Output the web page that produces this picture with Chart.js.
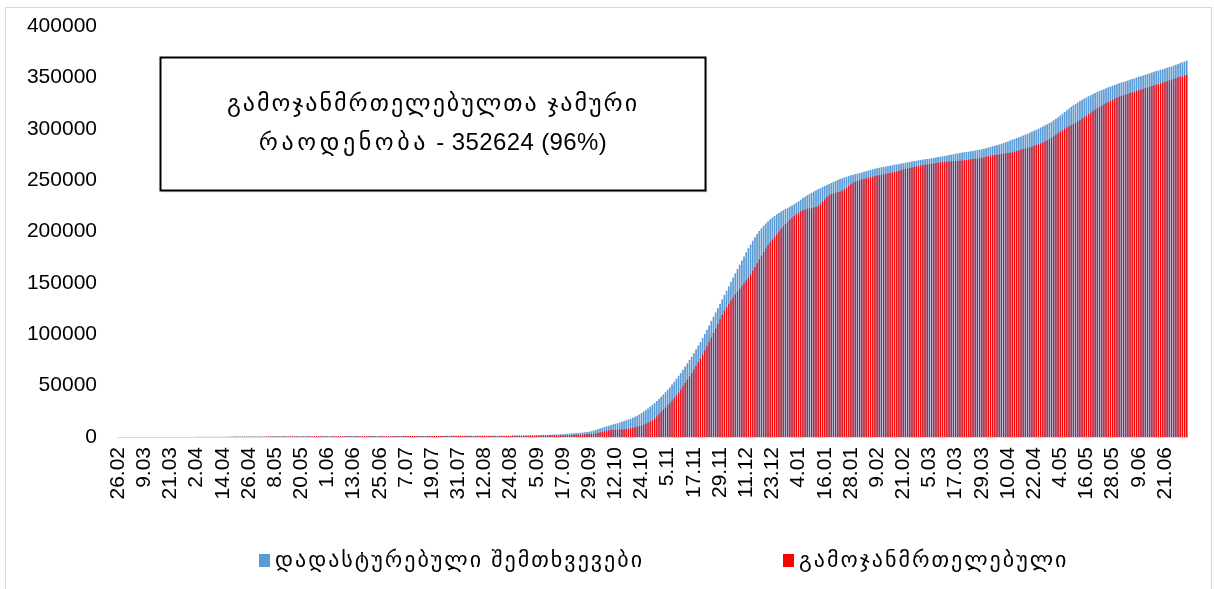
<!DOCTYPE html>
<html>
<head>
<meta charset="utf-8">
<script src="https://cdn.jsdelivr.net/npm/chart.js@4/dist/chart.umd.min.js"></script>
<style>
  html, body { margin: 0; padding: 0; background: #fff; }
  #wrap { position: relative; width: 1214px; height: 589px; overflow: hidden; }
  #wrap canvas { position: absolute; left: 0; top: 0; }
  #frame { position: absolute; left: 5px; top: 7px; width: 1205px; height: 640px;
           border: 1px solid #d9d9d9; pointer-events: none; }
</style>
</head>
<body>
<div id="wrap">
  <canvas id="chart" width="1214" height="589"></canvas>
  <div id="frame"></div>
</div>
<script>
// Daily series, 26.02.2020 – 1.07.2021 (one reporting day, 1.10, is absent).
const firstDay = '2020-02-26';
const missingDays = ['1.10'];
const tickEvery = 12;            // a date label on every 12th day

const seriesNames = ['დადასტურებული შემთხვევები', 'გამოჯანმრთელებული'];
const summaryLines = ['გამოჯანმრთელებულთა ჯამური', 'რაოდენობა'];

const yTicks = [0, 50000, 100000, 150000, 200000, 250000, 300000, 350000, 400000];

// cumulative confirmed cases
const confirmed = [
  1, 1, 2, 3,
  3, 3, 3, 9, 12, 13, 13, 15, 15, 23, 24, 25, 30, 33, 33, 34, 38, 40, 43, 44, 49, 54, 55, 61, 70, 75, 79, 83, 90, 103, 110,
  115, 134, 155, 174, 188, 195, 211, 218, 234, 242, 257, 272, 300, 306, 330, 348, 370, 388, 394, 402, 408, 416, 425, 444, 456, 486, 497, 511, 517, 539,
  566, 582, 589, 593, 604, 610, 615, 626, 635, 642, 647, 661, 672, 677, 683, 695, 701, 713, 721, 723, 728, 730, 731, 732, 735, 738, 746, 761, 784, 795, 800,
  805, 806, 811, 817, 818, 822, 830, 836, 846, 855, 861, 869, 874, 879, 883, 885, 888, 891, 893, 898, 900, 901, 902, 906, 911, 915, 918, 921, 924, 928,
  931, 936, 939, 942, 949, 953, 961, 968, 975, 978, 980, 985, 991, 995, 997, 1000, 1004, 1006, 1011, 1032, 1043, 1066, 1073, 1090, 1111, 1131, 1141, 1159, 1167, 1173, 1182,
  1195, 1197, 1208, 1212, 1218, 1222, 1223, 1232, 1238, 1245, 1248, 1253, 1259, 1261, 1264, 1266, 1275, 1283, 1288, 1294, 1304, 1313, 1321, 1334, 1350, 1362, 1377, 1402, 1430, 1440, 1500,
  1562, 1600, 1640, 1680, 1734, 1790, 1860, 1920, 1960, 1979, 2080, 2210, 2350, 2450, 2540, 2650, 2758, 2900, 3100, 3300, 3500, 3700, 3850, 4000, 4200, 4400, 4700, 4950, 5200, 5500,
  6300, 6900, 7600, 8300, 9000, 9700, 10400, 11000, 11700, 12300, 12900, 13500, 14100, 14800, 15500, 16200, 17000, 17800, 18700, 19700, 20800, 22000, 23300, 24700, 26200, 27800, 29500, 31300, 33100, 35000,
  37000, 39100, 41300, 43600, 46000, 48500, 51100, 53800, 56600, 59500, 62400, 65400, 68500, 71700, 74900, 78200, 81600, 85100, 88700, 92400, 96300, 100300, 104400, 108600, 112800, 117000, 121200, 125400, 129600, 133800,
  138100, 142400, 146700, 151000, 155200, 159400, 163500, 167600, 171700, 175700, 179700, 183600, 187400, 191000, 194400, 197500, 200400, 203100, 205600, 207900, 210000, 211900, 213600, 215200, 216700, 218100, 219400, 220600, 221800, 223000, 224100,
  225300, 226600, 228000, 229500, 231000, 232500, 233900, 235300, 236600, 237800, 239000, 240100, 241200, 242200, 243200, 244200, 245200, 246200, 247200, 248200, 249200, 250100, 251000, 251800, 252600, 253300, 254000, 254700, 255300, 255900, 256400,
  256900, 257500, 258100, 258700, 259300, 259900, 260500, 261000, 261500, 262000, 262500, 262900, 263300, 263700, 264100, 264500, 264900, 265300, 265700, 266100, 266500, 266900, 267300, 267700, 268100, 268500, 268900, 269300,
  269700, 270000, 270300, 270600, 270900, 271200, 271600, 272000, 272400, 272800, 273200, 273600, 274000, 274400, 274800, 275200, 275600, 276000, 276400, 276800, 277100, 277400, 277700, 278000, 278400, 278800, 279200, 279600, 280100, 280600, 281100,
  281700, 282300, 282900, 283500, 284100, 284700, 285400, 286100, 286900, 287700, 288500, 289300, 290100, 290900, 291700, 292500, 293400, 294300, 295200, 296100, 297000, 298000, 299000, 300000, 301100, 302200, 303300, 304400, 305600, 306800,
  308200, 309700, 311300, 313000, 314700, 316400, 318100, 319700, 321300, 322800, 324200, 325600, 327000, 328200, 329400, 330500, 331600, 332700, 333700, 334700, 335700, 336700, 337600, 338500, 339400, 340300, 341100, 341900, 342700, 343500, 344200,
  344900, 345600, 346300, 347000, 347700, 348400, 349100, 349800, 350500, 351200, 351900, 352600, 353300, 354000, 354700, 355400, 356100, 356700, 357300, 357900, 358600, 359300, 360000, 360700, 361500, 362300, 363100, 363900, 364700, 365500,
  366300
];

// cumulative recovered
const recovered = [
  0, 0, 0, 0,
  0, 0, 0, 0, 0, 0, 0, 0, 0, 0, 0, 0, 1, 1, 1, 1, 1, 1, 1, 3, 3, 3, 6, 6, 13, 14, 15, 17, 18, 20, 21,
  22, 26, 27, 31, 33, 36, 40, 53, 55, 61, 67, 72, 79, 90, 96, 104, 111, 121, 127, 136, 147, 160, 168, 183, 199, 211, 223, 237, 256, 271,
  289, 304, 329, 359, 380, 392, 403, 427, 442, 456, 474, 491, 515, 528, 538, 545, 558, 580, 596, 606, 612, 628, 636, 641, 650, 658, 668, 680, 691, 702, 710,
  717, 722, 730, 734, 738, 741, 746, 750, 754, 757, 761, 764, 766, 769, 770, 773, 778, 784, 788, 790, 798, 803, 807, 810, 812, 815, 817, 820, 822, 825,
  830, 836, 841, 848, 853, 860, 862, 866, 870, 872, 875, 880, 884, 888, 891, 895, 900, 903, 905, 906, 910, 916, 920, 926, 931, 937, 943, 950, 958, 964, 970,
  975, 980, 985, 990, 995, 1000, 1004, 1008, 1011, 1014, 1017, 1020, 1024, 1028, 1032, 1035, 1040, 1046, 1052, 1059, 1067, 1074, 1083, 1091, 1100, 1110, 1121, 1134, 1150, 1165, 1180,
  1200, 1220, 1240, 1260, 1280, 1300, 1320, 1340, 1360, 1380, 1400, 1420, 1440, 1460, 1480, 1500, 1550, 1610, 1680, 1760, 1850, 1950, 2050, 2150, 2250, 2350, 2450, 2600, 2800, 3000,
  3100, 3400, 3800, 4300, 4900, 5600, 6200, 6600, 6800, 6900, 7000, 7100, 7200, 7300, 7500, 7700, 8000, 8400, 8900, 9400, 9900, 10500, 11200, 12000, 12900, 13900, 14900, 16300, 18000, 20000,
  22100, 24300, 26500, 28700, 30900, 33100, 35400, 37800, 40400, 43200, 46200, 49300, 52500, 55700, 58900, 62200, 65600, 69100, 72700, 76400, 80300, 84300, 88400, 92600, 96900, 101200, 105600, 110000, 114500, 119000,
  122800, 126200, 129600, 132800, 135800, 138700, 141500, 144300, 147000, 149700, 152400, 155000, 158200, 161700, 165300, 169000, 172700, 176400, 180000, 183500, 186800, 189600, 192300, 194900, 197400, 199900, 202400, 204800, 207100, 209300, 211400,
  213300, 215100, 216800, 218300, 219600, 220700, 221500, 222100, 222500, 222900, 223300, 223800, 224500, 226500, 229000, 231500, 233600, 235200, 236200, 237000, 237700, 238400, 239000, 239700, 241000, 242600, 244300, 245900, 247200, 248300, 249200,
  249900, 250500, 251100, 251700, 252300, 252900, 253400, 253900, 254400, 254800, 255200, 255600, 256000, 256400, 256900, 257400, 257900, 258500, 259100, 259700, 260300, 260800, 261300, 261800, 262300, 262800, 263300, 263800,
  264300, 264700, 265000, 265300, 265600, 265900, 266300, 266700, 267000, 267300, 267600, 267800, 268000, 268200, 268300, 268400, 268500, 268700, 268900, 269100, 269300, 269600, 269900, 270200, 270500, 270800, 271000, 271200, 271600, 272100, 272700,
  273200, 273700, 274100, 274500, 274800, 275100, 275500, 275800, 276000, 276300, 276700, 277200, 277800, 278400, 279000, 279600, 280200, 280800, 281400, 282000, 282700, 283400, 284100, 284900, 285700, 286600, 287600, 288700, 290000, 291400,
  292800, 294200, 295700, 297200, 298600, 299900, 301100, 302300, 303500, 304700, 305900, 307100, 308300, 309700, 311100, 312600, 314100, 315600, 317000, 318500, 320000, 321300, 322500, 323700, 324900, 326000, 327100, 328200, 329200, 330200, 331100,
  331900, 332600, 333300, 334000, 334700, 335400, 336100, 336800, 337400, 338000, 338700, 339400, 340100, 340800, 341500, 342200, 342900, 343600, 344300, 345000, 345600, 346300, 347000, 347700, 348400, 349100, 349800, 350500, 351200, 351900,
  352624
];

const FONT = '"Liberation Sans", Arial, "DejaVu Sans", sans-serif';
const COLORS = { confirmed: '#5B9BD5', recovered: '#FF0000' };

// day labels "d.mm", one per entry of the series
function buildDayLabels(count) {
  const out = [];
  const d = new Date(firstDay + 'T00:00:00Z');
  while (out.length < count) {
    const lab = d.getUTCDate() + '.' + String(d.getUTCMonth() + 1).padStart(2, '0');
    if (!missingDays.includes(lab)) out.push(lab);
    d.setUTCDate(d.getUTCDate() + 1);
  }
  return out;
}
const dayLabels = buildDayLabels(confirmed.length);

// draws a line made of runs (each with its own font / letter spacing), centred on cx
function drawRuns(ctx, runs, cx, y) {
  const widths = runs.map(r => {
    ctx.font = r.font;
    ctx.letterSpacing = (r.spacing || 0) + 'px';
    return ctx.measureText(r.text).width;
  });
  let x = cx - widths.reduce((s, w) => s + w, 0) / 2;
  runs.forEach((r, i) => {
    ctx.font = r.font;
    ctx.letterSpacing = (r.spacing || 0) + 'px';
    ctx.fillText(r.text, x, y);
    x += widths[i];
  });
  ctx.letterSpacing = '0px';
}

// framed note with the recovered total and its share of all cases
const summaryBox = {
  id: 'summaryBox',
  afterDatasetsDraw(chart) {
    const { ctx, chartArea: a } = chart;
    const last = recovered.length - 1;
    const total = recovered[last];
    const share = Math.round(total / confirmed[last] * 100);
    const x0 = Math.round(a.left + a.width * 0.040) + 0.5;
    const x1 = Math.round(a.left + a.width * 0.549) + 0.5;
    const y0 = Math.round(a.top + a.height * 0.076) + 0.5;
    const y1 = Math.round(a.top + a.height * 0.398) + 0.5;
    ctx.save();
    ctx.fillStyle = 'rgba(0,0,0,0.10)';
    ctx.fillRect(x0 + 2, y0 + 2, x1 - x0, y1 - y0);
    ctx.fillStyle = '#fff';
    ctx.fillRect(x0, y0, x1 - x0, y1 - y0);
    ctx.lineWidth = 2;
    ctx.strokeStyle = '#000';
    ctx.strokeRect(x0, y0, x1 - x0, y1 - y0);
    ctx.fillStyle = '#000';
    ctx.textAlign = 'left';
    ctx.textBaseline = 'middle';
    const cx = (x0 + x1) / 2, cy = (y0 + y1) / 2;
    const font = '24px ' + FONT;
    drawRuns(ctx, [{ text: summaryLines[0], font, spacing: 2.0 }], cx, cy - 20);
    drawRuns(ctx, [
      { text: summaryLines[1], font, spacing: 3.6 },
      { text: ' - ' + total + ' (' + share + '%)', font, spacing: 0.4 }
    ], cx, cy + 19);
    ctx.restore();
  }
};

// legend row under the date labels
const legendSlots = [0.1326, 0.622];
const legendRow = {
  id: 'legendRow',
  afterDraw(chart) {
    const { ctx, chartArea: a } = chart;
    const y = chart.height - 28;
    ctx.save();
    ctx.textBaseline = 'middle';
    ctx.textAlign = 'left';
    chart.data.datasets.forEach((ds, k) => {
      const x = Math.round(a.left + a.width * legendSlots[k]);
      ctx.fillStyle = ds.backgroundColor;
      ctx.fillRect(x, y - 7, 11, 13);
      ctx.fillStyle = '#000';
      ctx.font = '22px ' + FONT;
      ctx.letterSpacing = '2px';
      ctx.fillText(ds.label, x + 16, y);
      ctx.letterSpacing = '0px';
    });
    ctx.restore();
  }
};

new Chart(document.getElementById('chart'), {
  type: 'bar',
  data: {
    labels: dayLabels,
    datasets: [
      { label: seriesNames[0], data: confirmed, backgroundColor: COLORS.confirmed,
        grouped: false, order: 1, categoryPercentage: 1, barPercentage: 0.78 },
      { label: seriesNames[1], data: recovered, backgroundColor: COLORS.recovered,
        grouped: false, order: 0, categoryPercentage: 1, barPercentage: 0.56 }
    ]
  },
  options: {
    responsive: false,
    animation: false,
    layout: { padding: { top: 26, right: 26, left: 0, bottom: 52 } },
    plugins: {
      legend: { display: false },
      tooltip: { enabled: false }
    },
    scales: {
      x: {
        grid: { display: false, drawTicks: true, tickLength: 8, tickColor: 'transparent' },
        border: { display: true, color: '#d9d9d9', width: 1 },
        ticks: {
          autoSkip: false, minRotation: 90, maxRotation: 90, padding: 2,
          color: '#000', font: { size: 21, family: FONT },
          callback(value, index) {
            return index % tickEvery === 0 ? this.getLabelForValue(value) : '';
          }
        },
        afterFit(scale) { scale.height = 100; }
      },
      y: {
        min: yTicks[0], max: yTicks[yTicks.length - 1],
        grid: { display: false, drawTicks: true, tickLength: 16, tickColor: 'transparent' },
        border: { display: false },
        afterBuildTicks(scale) { scale.ticks = yTicks.map(v => ({ value: v })); },
        ticks: {
          padding: 4, color: '#000', font: { size: 21, family: FONT },
          callback: v => String(v)
        },
        afterFit(scale) { scale.width = 117; }
      }
    }
  },
  plugins: [summaryBox, legendRow]
});
</script>
</body>
</html>
